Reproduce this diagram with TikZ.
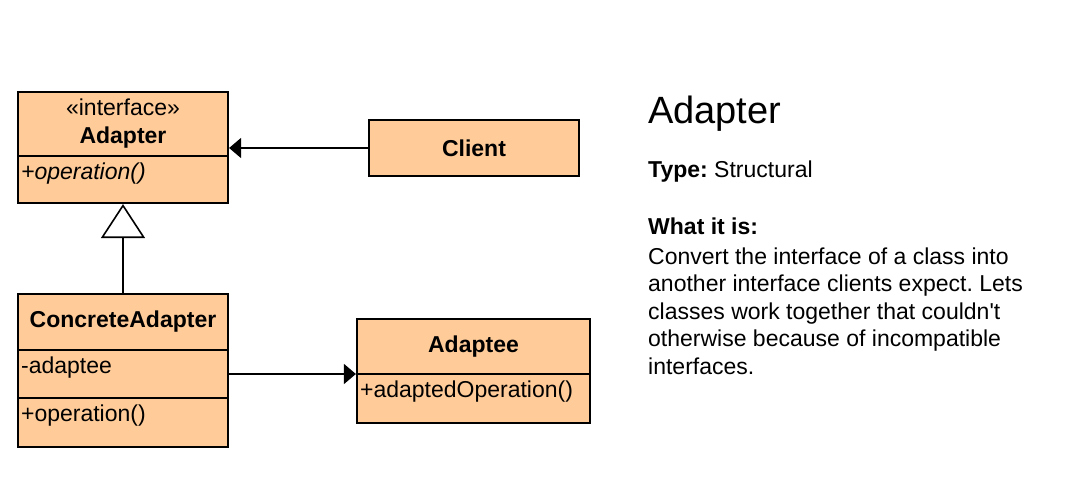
\documentclass[tikz,border=0pt]{standalone}
\usepackage{fontspec}
\setmainfont{Liberation Sans}
\usetikzlibrary{arrows.meta}
\definecolor{classfill}{RGB}{255,204,153}
\frenchspacing

\begin{document}
\begin{tikzpicture}[x=1pt, y=-1pt,
    every node/.style={font=\fontsize{23}{28}\selectfont},
    box/.style={draw, fill=classfill, line width=2.2pt, inner sep=0pt},
    member/.style={anchor=base west, inner sep=0pt},
    txt/.style={anchor=base west, inner sep=0pt},
    assoc/.style={-{Triangle[length=12pt, width=20pt]}, line width=1.6pt},
    inherit/.style={-{Triangle[length=34pt, width=44pt, fill=white]}, line width=1.6pt}]
    \useasboundingbox (0, 0) rectangle (1084, 486);

    \node[box, minimum width=210, minimum height=64, align=center] (adapterHead) at (123, 124) {«interface»\\\textbf{Adapter}};
    \node[box, minimum width=210, minimum height=47] (adapterOps) at (123, 179.5) {};
    \node[member] (adapterOp) at ([xshift=4pt, yshift=-24.5pt]adapterOps.north west) {\textit{+operation()}};

    \node[box, minimum width=210, minimum height=56] (client) at (474, 148) {\textbf{Client}};

    \node[box, minimum width=210, minimum height=56] (concreteHead) at (123, 322) {\textbf{ConcreteAdapter}};
    \node[box, minimum width=210, minimum height=48] (concreteAttr) at (123, 374) {};
    \node[box, minimum width=210, minimum height=49] (concreteOps) at (123, 422.5) {};
    \node[member] (concreteField) at ([xshift=4pt, yshift=-24.5pt]concreteAttr.north west) {-adaptee};
    \node[member] (concreteOp) at ([xshift=4pt, yshift=-24.5pt]concreteOps.north west) {+operation()};

    \node[box, minimum width=233, minimum height=55] (adapteeHead) at (473.5, 346.5) {\textbf{Adaptee}};
    \node[box, minimum width=233, minimum height=49] (adapteeOps) at (473.5, 398.5) {};
    \node[member] (adapteeOp) at ([xshift=4pt, yshift=-24.5pt]adapteeOps.north west) {+adaptedOperation()};

    \draw[assoc] (client.west) -- (client.west -| adapterHead.east);
    \draw[inherit] (concreteHead.north) -- (adapterOps.south);
    \draw[assoc] (concreteAttr.east) -- (concreteAttr.east -| adapteeHead.west);

    \node[txt, font=\fontsize{38}{44}\selectfont] (title) at (648, 124) {Adapter};
    \node[txt] (type) at (648, 178) {\textbf{Type:} Structural};
    \node[txt] (whatis) at (648, 235) {\textbf{What it is:}};
    \node[anchor=north west, inner sep=0pt, align=left, font=\fontsize{23}{27.5}\selectfont] (desc) at (648, 247.5)
        {Convert the interface of a class into\\another interface clients expect. Lets\\classes work together that couldn\textquotesingle t\\otherwise because of incompatible\\interfaces.};
\end{tikzpicture}
\end{document}
